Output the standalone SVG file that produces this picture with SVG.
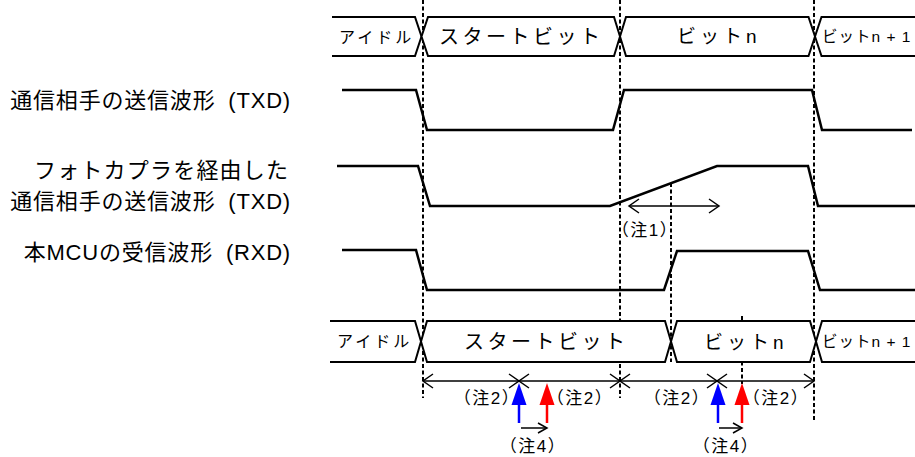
<svg xmlns="http://www.w3.org/2000/svg" width="915" height="457" viewBox="0 0 915 457">
<style>
.bus{fill:#fff;stroke:#000;stroke-width:2;stroke-linejoin:miter}
.wave{fill:none;stroke:#000;stroke-width:2.5;stroke-linejoin:miter}
.dash{stroke:#000;stroke-width:2;stroke-dasharray:4 2.5}
.arr{stroke:#000;stroke-width:1.5;fill:none}
.lbl{font-family:"Liberation Sans","Noto Sans CJK JP",sans-serif;fill:#000}
.side{font-family:"Liberation Sans","Noto Sans CJK JP",sans-serif;fill:#000;font-size:22px;letter-spacing:0.8px;word-spacing:6px;text-anchor:end}
.note{font-family:"Liberation Sans","Noto Sans CJK JP",sans-serif;font-size:17px;letter-spacing:1.5px;fill:#000;text-anchor:middle}
</style>
<defs>
<marker id="oa" markerUnits="userSpaceOnUse" markerWidth="24" markerHeight="24" viewBox="-12 -12 24 24" refX="0" refY="0" orient="auto-start-reverse">
<path d="M-10,-7 L0,0 L-10,7" fill="none" stroke="#000" stroke-width="1.5"/>
</marker>
<marker id="sa" markerUnits="userSpaceOnUse" markerWidth="24" markerHeight="24" viewBox="-12 -12 24 24" refX="0" refY="0" orient="auto-start-reverse">
<path d="M-9,-5 L0,0 L-9,5" fill="none" stroke="#000" stroke-width="1.5"/>
</marker>
</defs>

<g id="guides">
<line class="dash" x1="423" y1="0" x2="423" y2="398"/>
<line class="dash" x1="620" y1="0" x2="620" y2="398"/>
<line class="dash" x1="814" y1="0" x2="814" y2="420"/>
<line class="dash" x1="671" y1="183" x2="671" y2="362"/>
<line class="dash" x1="742" y1="316" x2="742" y2="384"/>
</g>

<g id="top-bus">
<path class="bus" d="M332,17 H415 L421.5,36.5 L415,56 H332"/>
<path class="bus" d="M428,17 H614 L620,36.5 L614,56 H428 L421.5,36.5 Z"/>
<path class="bus" d="M626,17 H808.5 L815,36.5 L808.5,56 H626 L620,36.5 Z"/>
<path class="bus" d="M918,17 H821.5 L815,36.5 L821.5,56 H918"/>
<text class="lbl" x="339" y="43" font-size="16" letter-spacing="3">アイドル</text>
<text class="lbl" x="439" y="44" font-size="20" letter-spacing="3.5">スタートビット</text>
<text class="lbl" x="677" y="43" font-size="19" letter-spacing="4">ビットn</text>
<text class="lbl" x="822" y="42" font-size="15.5" letter-spacing="1">ビットn + 1</text>
</g>

<g id="txd">
<text class="side" x="291" y="108">通信相手の送信波形 (TXD)</text>
<path class="wave" d="M342,90 H416 L427,130 H613 L624,90 H812 L822,130 H912"/>
</g>

<g id="txd-photocoupler">
<text class="lbl" x="34" y="178" font-size="22" letter-spacing="1.2">フォトカプラを経由した</text>
<text class="side" x="291" y="209">通信相手の送信波形 (TXD)</text>
<path class="wave" d="M337,166 H418 L430,206 H610 L717,166 H808 L818,206 H915"/>
</g>

<g id="rxd">
<text class="side" x="291" y="260">本MCUの受信波形 (RXD)</text>
<path class="wave" d="M342,250 H416 L427,290 H664 L677,251 H808 L820,290 H915"/>
</g>

<g id="bottom-bus">
<path class="bus" d="M330,321 H415 L421,341.5 L415,362 H330"/>
<path class="bus" d="M427,321 H665 L671,341.5 L665,362 H427 L421,341.5 Z"/>
<path class="bus" d="M677,321 H810 L816,341.5 L810,362 H677 L671,341.5 Z"/>
<path class="bus" d="M918,321 H822 L816,341.5 L822,362 H918"/>
<text class="lbl" x="337" y="347" font-size="16" letter-spacing="3">アイドル</text>
<text class="lbl" x="464" y="349" font-size="20" letter-spacing="3.5">スタートビット</text>
<text class="lbl" x="704" y="349" font-size="19" letter-spacing="4">ビットn</text>
<text class="lbl" x="822" y="347" font-size="15.5" letter-spacing="1">ビットn + 1</text>
</g>

<g id="connectors">
<line class="arr" x1="629" y1="206" x2="719" y2="206" marker-start="url(#oa)" marker-end="url(#oa)"/>
<line class="arr" x1="423" y1="381" x2="519" y2="381" marker-start="url(#oa)" marker-end="url(#oa)"/>
<line class="arr" x1="519" y1="381" x2="620" y2="381" marker-start="url(#oa)" marker-end="url(#oa)"/>
<line class="arr" x1="620" y1="381" x2="717" y2="381" marker-start="url(#oa)" marker-end="url(#oa)"/>
<line class="arr" x1="717" y1="381" x2="814" y2="381" marker-start="url(#oa)" marker-end="url(#oa)"/>
<line class="arr" x1="521" y1="428" x2="547" y2="428" marker-end="url(#sa)"/>
<line class="arr" x1="719" y1="428" x2="742" y2="428" marker-end="url(#sa)"/>
</g>

<g id="sample-points">
<polygon points="511.5,405 519,383 526.5,405" fill="#0000ff"/>
<line x1="519" y1="404" x2="519" y2="423" stroke="#0000ff" stroke-width="2.5"/>
<polygon points="539.5,405 547,383 554.5,405" fill="#ff0000"/>
<line x1="547" y1="404" x2="547" y2="423" stroke="#ff0000" stroke-width="2.5"/>
<polygon points="710.5,405 718,383 725.5,405" fill="#0000ff"/>
<line x1="718" y1="404" x2="718" y2="423" stroke="#0000ff" stroke-width="2.5"/>
<polygon points="734.5,405 742,383 749.5,405" fill="#ff0000"/>
<line x1="742" y1="404" x2="742" y2="423" stroke="#ff0000" stroke-width="2.5"/>
</g>

<g id="notes">
<text class="note" x="645" y="236">（注1）</text>
<text class="note" x="487" y="404">（注2）</text>
<text class="note" x="580" y="404">（注2）</text>
<text class="note" x="677" y="404">（注2）</text>
<text class="note" x="776" y="404">（注2）</text>
<text class="note" x="533" y="452">（注4）</text>
<text class="note" x="726" y="452">（注4）</text>
</g>
</svg>
